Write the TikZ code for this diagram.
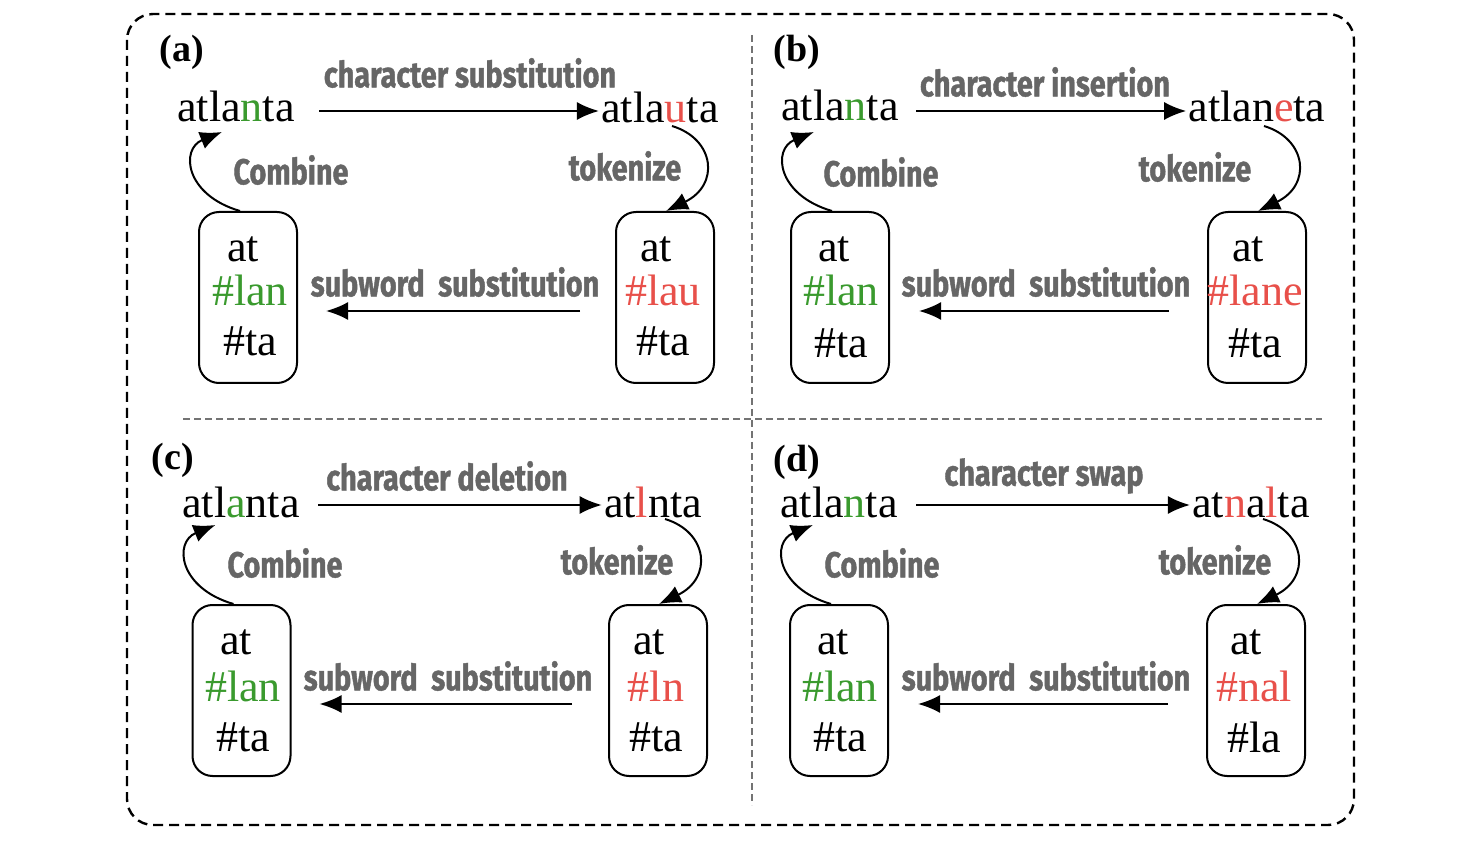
\documentclass[tikz,border=0pt]{standalone}
\usepackage{fontspec}
\setmainfont{Liberation Serif}
\newfontfamily\labfont{Fira Sans}[FakeStretch=0.8,FakeBold=1.2]
\usetikzlibrary{arrows.meta,calc}
\definecolor{okgreen}{HTML}{3A9A2E}
\definecolor{badred}{HTML}{E8504A}
\definecolor{labgray}{HTML}{666666}
\newcommand{\gr}[1]{{\color{okgreen}#1}}
\newcommand{\rd}[1]{{\color{badred}#1}}
\tikzset{
  word/.style={font=\fontsize{22}{24}\selectfont, inner sep=1pt},
  tok/.style={font=\fontsize{22}{24}\selectfont, inner sep=0pt},
  panellab/.style={font=\fontsize{19}{21}\selectfont\bfseries},
  oplab/.style={font=\labfont\fontsize{18}{20}\selectfont\bfseries, text=labgray},
  tokbox/.style={draw, line width=1pt, rounded corners=10pt, minimum width=49pt, minimum height=85.5pt, inner sep=0pt},
  arr/.style={-{Latex[length=11pt,width=9pt]}, line width=1pt},
  sepline/.style={draw=black!55, line width=0.7pt, dash pattern=on 3.5pt off 2pt},
  outerline/.style={draw=black, line width=1.2pt, dash pattern=on 5pt off 3pt, rounded corners=13pt}
}
\begin{document}
\begin{tikzpicture}[x=0.5pt,y=-0.5pt]
\useasboundingbox (0,0) rectangle (1484,844);
\draw[outerline] (127,14) rectangle (1354,825);
\draw[sepline] (752,35) -- (752,805);
\draw[sepline] (183,419) -- (1322,419);

% ---------- panel (a)
\node[panellab] (A-lab) at (182,52) {(a)};
\node[word] (A-w1) at (236,106) {atla\gr{n}ta};
\node[word] (A-w2) at (660,107) {atla\rd{u}ta};
\node[oplab] (A-op) at (470,73) {character substitution};
\node[tokbox] (A-lb) at (248,297.5) {};
\node[tokbox] (A-rb) at (665,297.5) {};
\node[tok] (A-l1) at (243,249) {at};
\node[tok] (A-l2) at (250,290) {\gr{\#lan}};
\node[tok] (A-l3) at (250,341) {\#ta};
\node[tok] (A-r1) at (656,249) {at};
\node[tok] (A-r2) at (663,290) {\rd{\#lau}};
\node[tok] (A-r3) at (663,341) {\#ta};
\node[oplab] (A-sub) at (455,282) {subword\ \ substitution};
\node[oplab] (A-comb) at (291,170) {Combine};
\node[oplab] (A-tok) at (625,166) {tokenize};
\draw[arr] (A-w1.east |- 0,111) ++(22,0) coordinate (A-s) -- (A-w2.west |- A-s);
\draw[arr] ($(A-rb.west)+(-35,13.5)$) -- ($(A-lb.east)+(28,13.5)$);
\draw[arr] ($(A-lb.north)+(-8,0)$) .. controls +(-55,-16) and +(-42,17) .. ($(A-lb.north)+(-26,-79)$);
\draw[arr] ($(A-rb.north)+(7,-85)$) .. controls +(43,13) and +(54,-26) .. ($(A-rb.north)+(1,0)$);

% ---------- panel (b)
\node[panellab] (B-lab) at (797,52) {(b)};
\node[word] (B-w1) at (840,105) {atla\gr{n}ta};
\node[word] (B-w2) at (1257,106) {atlan\rd{e}ta};
\node[oplab] (B-op) at (1045,82) {character insertion};
\node[tokbox] (B-lb) at (840,297.5) {};
\node[tokbox] (B-rb) at (1257,297.5) {};
\node[tok] (B-l1) at (834,249) {at};
\node[tok] (B-l2) at (841,290) {\gr{\#lan}};
\node[tok] (B-l3) at (841,343) {\#ta};
\node[tok] (B-r1) at (1248,249) {at};
\node[tok] (B-r2) at (1255,290) {\rd{\#lane}};
\node[tok] (B-r3) at (1255,343) {\#ta};
\node[oplab] (B-sub) at (1046,282) {subword\ \ substitution};
\node[oplab] (B-comb) at (881,172) {Combine};
\node[oplab] (B-tok) at (1195,167) {tokenize};
\draw[arr] (916,111) coordinate (B-s) -- (B-w2.west |- B-s);
\draw[arr] ($(B-rb.west)+(-38,13.5)$) -- ($(B-lb.east)+(29,13.5)$);
\draw[arr] ($(B-lb.north)+(-8,0)$) .. controls +(-55,-16) and +(-42,17) .. ($(B-lb.north)+(-26,-79)$);
\draw[arr] ($(B-rb.north)+(7,-85)$) .. controls +(43,13) and +(54,-26) .. ($(B-rb.north)+(1,0)$);

% ---------- panel (c)
\node[panellab] (C-lab) at (173,460) {(c)};
\node[word] (C-w1) at (241,502) {atl\gr{a}nta};
\node[word] (C-w2) at (653,502) {at\rd{l}nta};
\node[oplab] (C-op) at (447,476) {character deletion};
\node[tokbox] (C-lb) at (241.5,690.5) {};
\node[tokbox] (C-rb) at (658,690.5) {};
\node[tok] (C-l1) at (236,642) {at};
\node[tok] (C-l2) at (243,686) {\gr{\#lan}};
\node[tok] (C-l3) at (243,737) {\#ta};
\node[tok] (C-r1) at (649,642) {at};
\node[tok] (C-r2) at (656,686) {\rd{\#ln}};
\node[tok] (C-r3) at (656,737) {\#ta};
\node[oplab] (C-sub) at (448,676) {subword\ \ substitution};
\node[oplab] (C-comb) at (285,563) {Combine};
\node[oplab] (C-tok) at (617,560) {tokenize};
\draw[arr] (318,505) coordinate (C-s) -- (C-w2.west |- C-s);
\draw[arr] ($(C-rb.west)+(-36,13.5)$) -- ($(C-lb.east)+(28,13.5)$);
\draw[arr] ($(C-lb.north)+(-8,0)$) .. controls +(-55,-16) and +(-42,17) .. ($(C-lb.north)+(-26,-79)$);
\draw[arr] ($(C-rb.north)+(7,-85)$) .. controls +(43,13) and +(54,-26) .. ($(C-rb.north)+(1,0)$);

% ---------- panel (d)
\node[panellab] (D-lab) at (797,462) {(d)};
\node[word] (D-w1) at (839,502) {atla\gr{n}ta};
\node[word] (D-w2) at (1251,502) {at\rd{n}a\rd{l}ta};
\node[oplab] (D-op) at (1044,476) {character swap};
\node[tokbox] (D-lb) at (839,690.5) {};
\node[tokbox] (D-rb) at (1256,690.5) {};
\node[tok] (D-l1) at (833,642) {at};
\node[tok] (D-l2) at (840,686) {\gr{\#lan}};
\node[tok] (D-l3) at (840,737) {\#ta};
\node[tok] (D-r1) at (1246,642) {at};
\node[tok] (D-r2) at (1254,686) {\rd{\#nal}};
\node[tok] (D-r3) at (1254,737) {\#la};
\node[oplab] (D-sub) at (1046,676) {subword\ \ substitution};
\node[oplab] (D-comb) at (882,563) {Combine};
\node[oplab] (D-tok) at (1215,560) {tokenize};
\draw[arr] (916,505) coordinate (D-s) -- (D-w2.west |- D-s);
\draw[arr] ($(D-rb.west)+(-38,13.5)$) -- ($(D-lb.east)+(29,13.5)$);
\draw[arr] ($(D-lb.north)+(-8,0)$) .. controls +(-55,-16) and +(-42,17) .. ($(D-lb.north)+(-26,-79)$);
\draw[arr] ($(D-rb.north)+(7,-85)$) .. controls +(43,13) and +(54,-26) .. ($(D-rb.north)+(1,0)$);
\end{tikzpicture}
\end{document}
